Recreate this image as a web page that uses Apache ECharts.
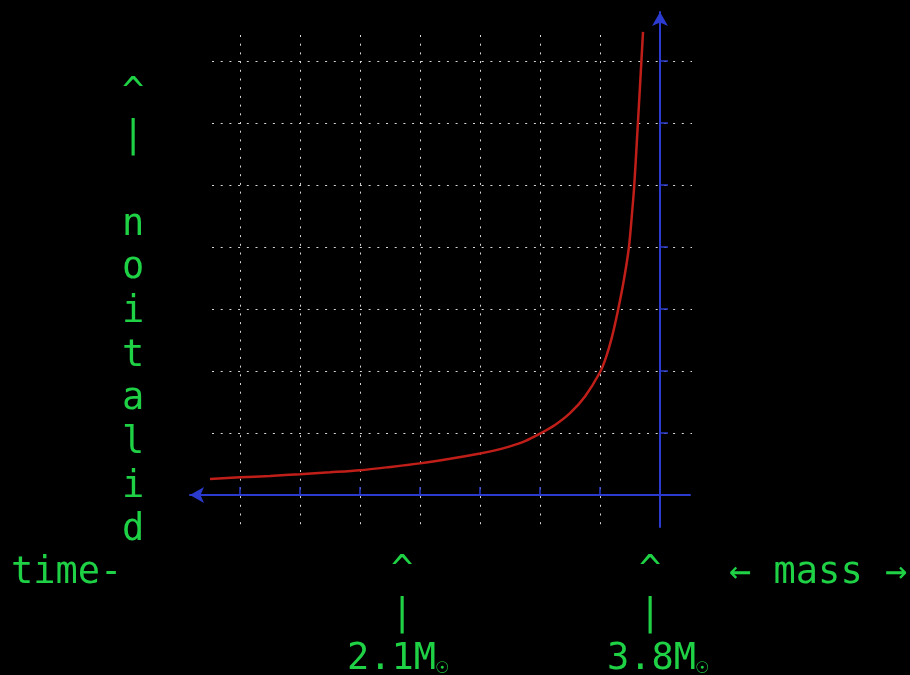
<!DOCTYPE html>
<html>
<head>
<meta charset="utf-8">
<script src="https://cdn.jsdelivr.net/npm/echarts@6/dist/echarts.min.js"></script>
<style>
  html, body { margin: 0; padding: 0; background: #000; }
  #chart { width: 910px; height: 675px; }
</style>
</head>
<body>
<div id="chart"></div>
<script>
// mass (in grid units, 0 = the y axis) and dilation
const massValues = [-7.5, -7.0, -6.5, -6.0, -5.5, -5.0, -4.5, -4.0, -3.5, -3.0, -2.75, -2.5, -2.25, -2.0,
    -1.75, -1.5, -1.25, -1.0, -0.9, -0.8, -0.7, -0.6, -0.52, -0.47, -0.43, -0.38, -0.33, -0.283]
const dilationValues = [0.26, 0.285, 0.308, 0.335, 0.366, 0.40, 0.452, 0.51, 0.585, 0.67, 0.72, 0.785, 0.87, 0.99,
    1.13, 1.32, 1.59, 1.98, 2.22, 2.55, 2.98, 3.48, 3.98, 4.5, 4.98, 5.8, 6.65, 7.47]
const xTicks = [-7, -6, -5, -4, -3, -2, -1, 0]
const yTicks = [1, 2, 3, 4, 5, 6, 7]
const yLabelLines = ['^', '|', '', 'n', 'o', 'i', 't', 'a', 'l', 'i', 'd']
const tickLabels = ['2.1M', '3.8M']

const green = '#1fd145'
const blue = '#2b3bd0'
const mono = '"DejaVu Sans Mono", monospace'

const chart = echarts.init(document.getElementById('chart'))

const dotted = {
    show: true,
    lineStyle: { color: '#d8d8d8', width: 1, type: [2, 6.7] }
}

const textStyle = (text, x, y, extra) => ({
    type: 'text',
    left: x,
    top: y,
    silent: true,
    style: Object.assign({ text: text, fill: green, font: '37px ' + mono }, extra || {})
})

const sunLabel = (label, x) => ({
    type: 'text',
    left: x,
    top: 641,
    silent: true,
    style: {
        text: '{a|' + label + '}{b|☉}',
        rich: {
            a: { fill: green, font: '37px ' + mono, verticalAlign: 'bottom' },
            b: { fill: green, font: '21px ' + mono, verticalAlign: 'bottom' }
        }
    }
})

const option = {
    backgroundColor: '#000',
    animation: false,
    grid: [
        { left: 212, right: 218, top: 35, bottom: 148 },
        { left: 190, right: 220, top: 12, bottom: 148 }
    ],
    xAxis: [
        {
            gridIndex: 0, type: 'value', min: -7.467, max: 0.533, z: 0,
            axisLine: { show: false }, axisLabel: { show: false },
            axisTick: { show: false, customValues: xTicks },
            splitLine: dotted
        },
        {
            gridIndex: 1, type: 'value', min: -7.833, max: 0.5, z: 5,
            axisLine: { show: true, onZero: true, symbol: ['arrow', 'none'], symbolSize: [12, 14],
                lineStyle: { color: blue, width: 2 } },
            axisTick: { show: true, inside: true, length: 8, customValues: xTicks,
                lineStyle: { color: blue, width: 1.5 } },
            axisLabel: { show: false },
            splitLine: { show: false }
        }
    ],
    yAxis: [
        {
            gridIndex: 0, type: 'value', min: -0.516, max: 7.419, z: 0,
            axisLine: { show: false }, axisLabel: { show: false },
            axisTick: { show: false, customValues: yTicks },
            splitLine: dotted
        },
        {
            gridIndex: 1, type: 'value', min: -0.516, max: 7.79, z: 5,
            axisLine: { show: true, onZero: true, symbol: ['none', 'arrow'], symbolSize: [12, 14],
                lineStyle: { color: blue, width: 2 } },
            axisTick: { show: true, inside: true, length: 8, customValues: yTicks,
                lineStyle: { color: blue, width: 1.5 } },
            axisLabel: { show: false },
            splitLine: { show: false }
        }
    ],
    series: [
        {
            type: 'line',
            xAxisIndex: 1,
            yAxisIndex: 1,
            data: massValues.map((m, i) => [m, dilationValues[i]]),
            showSymbol: false,
            smooth: 0.3,
            lineStyle: { color: '#c01e18', width: 2.5 },
            z: 3
        }
    ],
    graphic: [
        textStyle(yLabelLines.join('\n'), 122, 72, { lineHeight: 43.7, align: 'center' }),
        textStyle('time-', 11, 555),
        textStyle('← mass →', 729, 555),
        textStyle('^\n|', 391, 550, { lineHeight: 43.7 }),
        textStyle('^\n|', 639, 550, { lineHeight: 43.7 }),
        sunLabel(tickLabels[0], 347),
        sunLabel(tickLabels[1], 607)
    ]
}

chart.setOption(option)
</script>
</body>
</html>
